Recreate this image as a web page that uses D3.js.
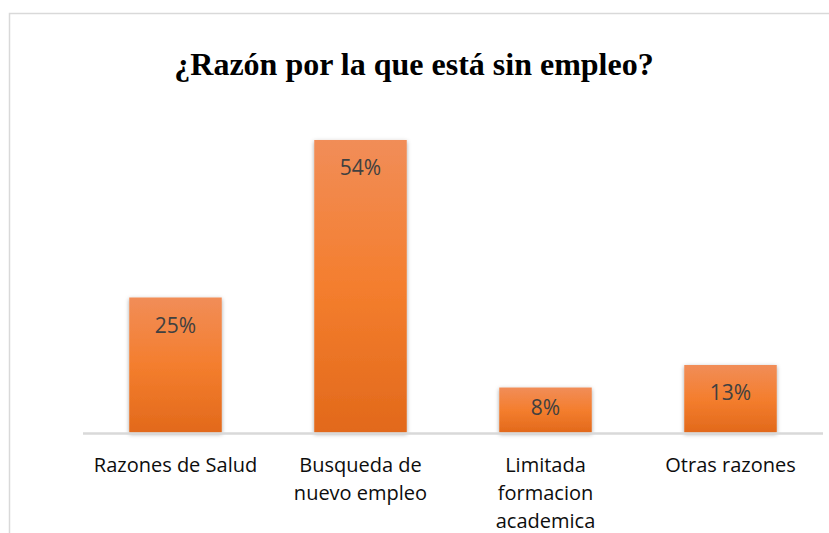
<!DOCTYPE html>
<html>
<head>
<meta charset="utf-8">
<script src="https://cdn.jsdelivr.net/npm/d3@7"></script>
<style>
  body { margin: 0; background: #fff; }
  svg { display: block; }
</style>
</head>
<body>
<div id="chart"></div>
<script>
const FRAME_WIDTH = 829;
const FRAME_HEIGHT = 533;
const MARGINS = {left: 83, right: 6, top: 107, bottom: 101};
const BASE_Y = FRAME_HEIGHT - MARGINS.bottom + 0.5;

// data
const CATEGORIES = ["Razones de Salud", "Busqueda de\nnuevo empleo", "Limitada\nformacion\nacademica", "Otras razones"];
const VALUES = [25, 54.17, 8.33, 12.5];
const TITLE = "¿Razón por la que está sin empleo?";

const SVG = d3.select("#chart")
  .append("svg")
    .attr("width", FRAME_WIDTH)
    .attr("height", FRAME_HEIGHT);

// gradient + shadow for the bars
const defs = SVG.append("defs");
const grad = defs.append("linearGradient")
  .attr("id", "barGrad")
  .attr("x1", 0).attr("y1", 0).attr("x2", 0).attr("y2", 1);
grad.append("stop").attr("offset", "0%").attr("stop-color", "#f18d58");
grad.append("stop").attr("offset", "50%").attr("stop-color", "#f47e2e");
grad.append("stop").attr("offset", "100%").attr("stop-color", "#e2691b");

const shadow = defs.append("filter")
  .attr("id", "shadow")
  .attr("x", "-20%").attr("y", "-20%").attr("width", "140%").attr("height", "140%");
shadow.append("feDropShadow")
  .attr("dx", 0).attr("dy", 1.5)
  .attr("stdDeviation", 2)
  .attr("flood-color", "#000")
  .attr("flood-opacity", 0.35);

// chart border
SVG.append("rect")
  .attr("x", 9.5).attr("y", 13.5)
  .attr("width", FRAME_WIDTH + 20).attr("height", FRAME_HEIGHT + 20)
  .attr("fill", "none")
  .attr("stroke", "#d9d9d9")
  .attr("stroke-width", 1.5);

// title
SVG.append("text")
  .attr("x", 414)
  .attr("y", 75)
  .attr("text-anchor", "middle")
  .attr("font-family", "'Liberation Serif', 'Times New Roman', serif")
  .attr("font-weight", "bold")
  .attr("font-size", "32px")
  .attr("fill", "#000")
  .text(TITLE);

const X_SCALE = d3.scaleBand()
  .domain(CATEGORIES)
  .range([MARGINS.left, FRAME_WIDTH - MARGINS.right])
  .paddingInner(0.5)
  .paddingOuter(0.25);

const Y_SCALE = d3.scaleLinear()
  .domain([0, 60])
  .range([BASE_Y, BASE_Y - 324]);

// bars
SVG.selectAll(".bar")
  .data(VALUES)
  .enter()
  .append("rect")
    .attr("class", "bar")
    .attr("x", (d, i) => X_SCALE(CATEGORIES[i]))
    .attr("y", (d) => Y_SCALE(d))
    .attr("width", X_SCALE.bandwidth())
    .attr("height", (d) => Y_SCALE(0) - Y_SCALE(d))
    .attr("fill", "url(#barGrad)")
    .attr("filter", "url(#shadow)");

// baseline
SVG.append("line")
  .attr("x1", MARGINS.left)
  .attr("x2", FRAME_WIDTH - MARGINS.right)
  .attr("y1", BASE_Y + 1)
  .attr("y2", BASE_Y + 1)
  .attr("stroke", "#d9d9d9")
  .attr("stroke-width", 2.5);

// value labels inside the bar tops
SVG.selectAll(".val")
  .data(VALUES)
  .enter()
  .append("text")
    .attr("class", "val")
    .attr("x", (d, i) => X_SCALE(CATEGORIES[i]) + X_SCALE.bandwidth() / 2)
    .attr("y", (d) => Y_SCALE(d) + Math.min(35, (Y_SCALE(0) - Y_SCALE(d)) * 0.6))
    .attr("text-anchor", "middle")
    .attr("font-family", "'Open Sans', sans-serif")
    .attr("font-size", "21px")
    .attr("fill", "#404040")
    .text((d) => Math.round(d) + "%");

// category labels (multi-line)
const catLabels = SVG.selectAll(".cat")
  .data(CATEGORIES)
  .enter()
  .append("text")
    .attr("class", "cat")
    .attr("x", (d) => X_SCALE(d) + X_SCALE.bandwidth() / 2)
    .attr("y", 472)
    .attr("text-anchor", "middle")
    .attr("font-family", "'Open Sans', sans-serif")
    .attr("font-size", "20px")
    .attr("fill", "#0d0d0d");

catLabels.each(function(d) {
  const lines = d.split("\n");
  const t = d3.select(this);
  lines.forEach((line, j) => {
    t.append("tspan")
      .attr("x", X_SCALE(d) + X_SCALE.bandwidth() / 2)
      .attr("dy", j === 0 ? 0 : 28)
      .text(line);
  });
});
</script>
</body>
</html>
